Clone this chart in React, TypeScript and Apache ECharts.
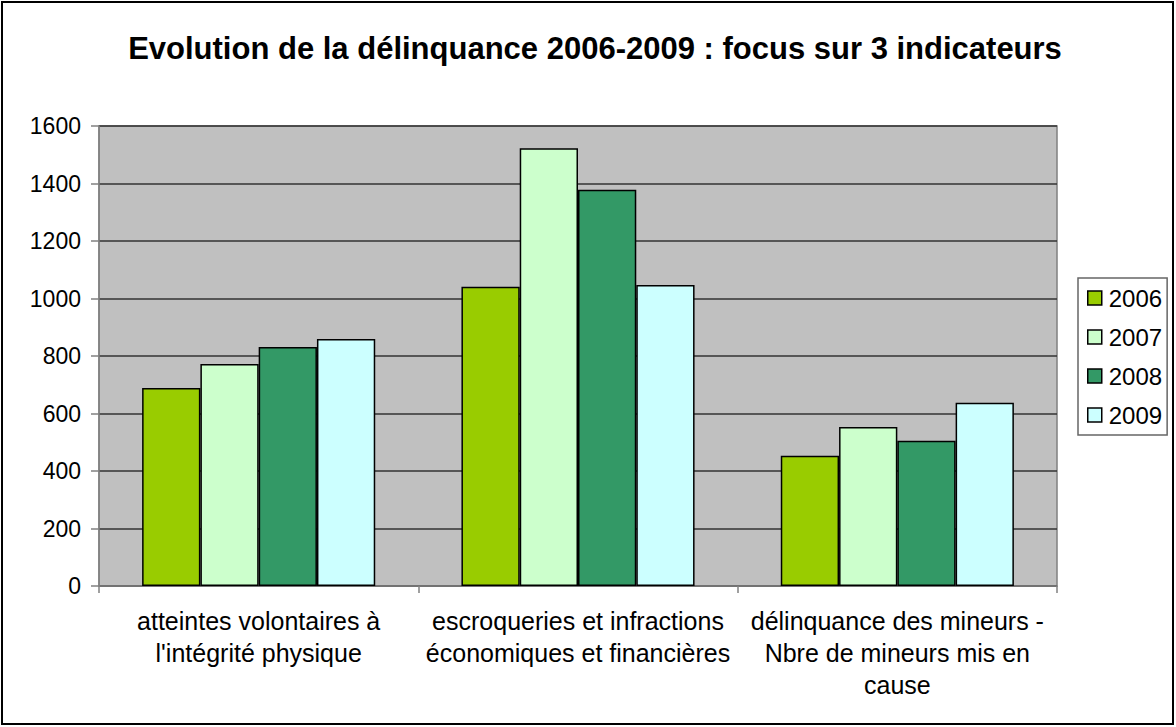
import React, { useEffect, useRef } from "react";
import * as echarts from "echarts";

const categories = [
  "atteintes volontaires à\nl'intégrité physique",
  "escroqueries et infractions\néconomiques et financières",
  "délinquance des mineurs -\nNbre de mineurs mis en\ncause",
];
const years = ["2006", "2007", "2008", "2009"];
const values2006 = [689, 1041, 453];
const values2007 = [772, 1523, 553];
const values2008 = [831, 1378, 505];
const values2009 = [859, 1047, 637];
const colors = ["#99CC00", "#CCFFCC", "#339966", "#CCFFFF"];
const yTicks = [0, 200, 400, 600, 800, 1000, 1200, 1400, 1600];
const titleText = "Evolution de la délinquance 2006-2009 : focus sur 3 indicateurs";

export default function App() {
  const ref = useRef<HTMLDivElement>(null);
  useEffect(() => {
    document.body.style.margin = "0";
    const chart = echarts.init(ref.current!, null, { renderer: "svg" });
    const seriesData = [values2006, values2007, values2008, values2009];
    const font = "'Liberation Sans', Arial, sans-serif";
    chart.setOption({
      animation: false,
      textStyle: { fontFamily: font },
      title: {
        text: titleText,
        left: 590,
        top: 28,
        textAlign: "center",
        textStyle: { fontSize: 31, fontWeight: "bold", color: "#000", fontFamily: font },
      },
      graphic: [
        {
          type: "rect",
          shape: { x: 2, y: 2, width: 1171, height: 722 },
          style: { fill: "none", stroke: "#000", lineWidth: 2 },
          silent: true,
        },
      ],
      legend: {
        orient: "vertical",
        left: 1078,
        top: 278,
        data: years,
        borderColor: "#666",
        borderWidth: 1.5,
        backgroundColor: "#fff",
        padding: [8, 5, 8, 9],
        itemGap: 15,
        itemWidth: 14,
        itemHeight: 14,
        icon: "rect",
        itemStyle: { borderColor: "#000", borderWidth: 1.5 },
        textStyle: { fontSize: 24, color: "#000", fontFamily: font, padding: [0, 0, 0, 2] },
      },
      grid: {
        left: 99,
        right: 119,
        top: 126,
        bottom: 141,
        show: true,
        backgroundColor: "#C0C0C0",
        borderColor: "#808080",
        borderWidth: 1.5,
        containLabel: false,
      },
      xAxis: {
        type: "category",
        data: categories,
        axisLine: { show: true, lineStyle: { color: "#808080", width: 1.5 } },
        axisTick: { show: true, length: 7, lineStyle: { color: "#808080", width: 1.5 } },
        axisLabel: {
          interval: 0,
          fontSize: 25,
          lineHeight: 32,
          color: "#000",
          margin: 19,
          fontFamily: font,
        },
      },
      yAxis: {
        type: "value",
        min: yTicks[0],
        max: yTicks[yTicks.length - 1],
        interval: 200,
        axisLine: { show: true, lineStyle: { color: "#808080", width: 1.5 } },
        axisTick: { show: true, length: 8, lineStyle: { color: "#808080", width: 1.5 } },
        splitLine: { show: true, lineStyle: { color: "#333", width: 1.5 } },
        axisLabel: {
          fontSize: 23,
          color: "#000",
          margin: 18,
          fontFamily: font,
          formatter: (v: number) => String(v),
        },
      },
      series: years.map((y, i) => ({
        name: y,
        type: "bar",
        data: seriesData[i],
        barGap: "0%",
        barCategoryGap: "27%",
        itemStyle: { color: colors[i], borderColor: "#000", borderWidth: 1.5 },
      })),
    });
    return () => chart.dispose();
  }, []);
  return <div ref={ref} style={{ width: 1176, height: 727, position: "absolute", left: 0, top: 0 }} />;
}
